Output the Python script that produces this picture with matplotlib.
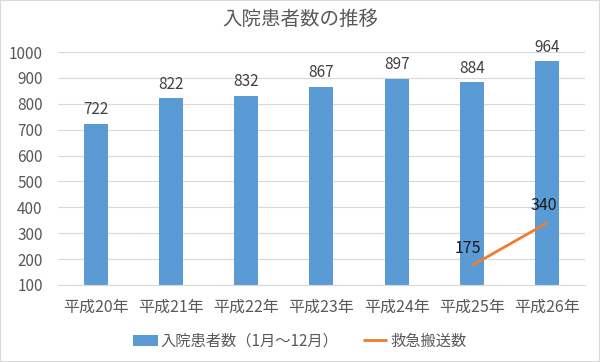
import matplotlib
matplotlib.use("Agg")
import matplotlib.pyplot as plt
import numpy as np

plt.rcParams['font.family'] = ['Noto Sans CJK JP', 'DejaVu Sans']

years = ['平成20年', '平成21年', '平成22年', '平成23年', '平成24年', '平成25年', '平成26年']
inpatients = [722, 822, 832, 867, 897, 884, 964]
ambulance_idx = [5, 6]
ambulance = [175, 340]

blue = '#5B9BD5'
orange = '#ED7D31'
grey = '#595959'

fig = plt.figure(figsize=(6, 3.62), dpi=100)
ax = fig.add_axes([0.0967, 0.213, 0.878, 0.643])

x = np.arange(len(years))
bars = ax.bar(x, [v - 100 for v in inpatients], bottom=100, width=0.32, color=blue,
              label='入院患者数（1月～12月）', zorder=2)
for xi, v in zip(x, inpatients):
    ax.annotate(str(v), (xi, v), xytext=(0, 4), textcoords='offset points',
                ha='center', va='bottom', fontsize=11, color='#404040')

line, = ax.plot(ambulance_idx, ambulance, color=orange, lw=2, label='救急搬送数',
                zorder=3, solid_capstyle='butt')
for xi, v in zip(ambulance_idx, ambulance):
    ax.annotate(str(v), (xi - 0.05, v), xytext=(0, 6), textcoords='offset points',
                ha='center', va='bottom', fontsize=11.5, color='#1a1a1a')

ax.set_xlim(-0.5, len(years) - 0.5)
ax.set_ylim(100, 1000)
ax.set_yticks(range(100, 1001, 100))
ax.set_xticks(x)
ax.set_xticklabels(years)
ax.tick_params(axis='both', length=0, colors=grey)
ax.tick_params(axis='y', pad=11, labelsize=11)
ax.tick_params(axis='x', pad=10, labelsize=11.5)
ax.grid(axis='y', color='#D9D9D9', lw=0.8, zorder=0)
for s in ['top', 'right', 'left']:
    ax.spines[s].set_visible(False)
ax.spines['bottom'].set_color('#D9D9D9')

fig.suptitle('入院患者数の推移', x=0.5, y=0.975, fontsize=14, color=grey)

fig.legend([bars, line], ['入院患者数（1月～12月）', '救急搬送数'],
           loc='center', bbox_to_anchor=(0.5, 0.058), ncol=2, frameon=False,
           fontsize=11, labelcolor=grey, handlelength=1.6, columnspacing=1.6,
           handletextpad=0.2)

fig.patches.append(plt.Rectangle((0, 0), 1, 1, transform=fig.transFigure,
                                 fill=False, edgecolor='#D9D9D9', lw=1.5))

fig.savefig('out.png', dpi=100)
